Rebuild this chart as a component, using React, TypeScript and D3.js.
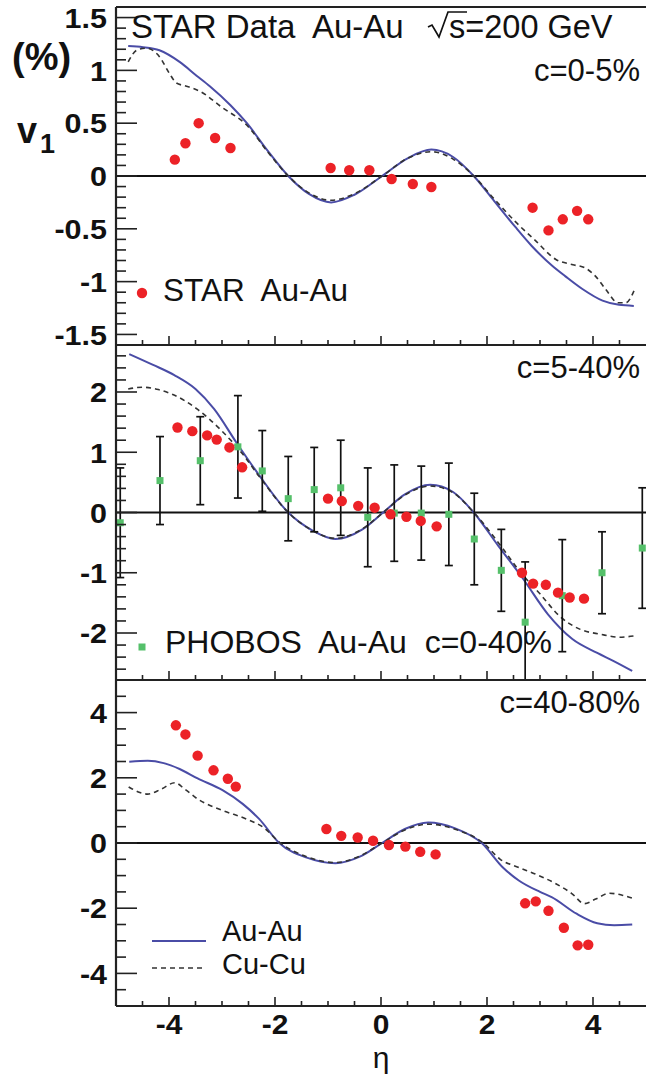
import React from 'react';
import * as d3 from 'd3';

// ---------- data ----------
const xTickLabels = [-4, -2, 0, 2, 4];
const yTicks1 = [-1.5, -1, -0.5, 0, 0.5, 1, 1.5];
const yTicks2 = [-2, -1, 0, 1, 2];
const yTicks3 = [-4, -2, 0, 2, 4];

// Panel 1 (c=0-5%)
const starEta1 = [-3.89, -3.69, -3.44, -3.13, -2.84, -0.95, -0.6, -0.22, 0.2, 0.6, 0.95, 2.86, 3.16, 3.43, 3.7, 3.91];
const starV1 = [0.155, 0.31, 0.5, 0.36, 0.265, 0.076, 0.054, 0.054, -0.028, -0.076, -0.104, -0.3, -0.515, -0.41, -0.33, -0.41];
const auEta1 = [-4.77, -4.49, -4.18, -3.8, -3.48, -3.23, -2.84, -2.53, -2.14, -1.75, -1.36, -0.94, -0.51, 0.02, 0.51, 0.95, 1.36, 1.75, 2.14, 2.53, 2.84, 3.23, 3.48, 3.8, 4.18, 4.49, 4.77];
const auV1 = [1.23, 1.22, 1.19, 1.08, 0.95, 0.85, 0.67, 0.5, 0.24, 0, -0.17, -0.25, -0.18, 0, 0.17, 0.25, 0.18, 0, -0.24, -0.48, -0.66, -0.85, -0.95, -1.07, -1.18, -1.22, -1.23];
const cuEta1 = [-4.77, -4.61, -4.43, -4.18, -3.99, -3.86, -3.67, -3.41, -3.0, -2.53, -2.14, -1.75, -1.36, -0.94, -0.51, 0.02, 0.51, 0.95, 1.36, 1.75, 2.14, 2.53, 2.91, 3.3, 3.62, 3.85, 4.05, 4.25, 4.47, 4.62, 4.78];
const cuV1 = [1.08, 1.19, 1.21, 1.13, 0.97, 0.88, 0.85, 0.8, 0.65, 0.48, 0.23, 0, -0.16, -0.23, -0.17, 0, 0.17, 0.23, 0.16, 0, -0.22, -0.43, -0.61, -0.79, -0.84, -0.87, -0.95, -1.08, -1.2, -1.2, -1.08];

// Panel 2 (c=5-40%)
const starEta2 = [-3.84, -3.56, -3.28, -3.1, -2.86, -2.62, -1.0, -0.74, -0.43, -0.12, 0.18, 0.48, 0.75, 1.05, 2.66, 2.87, 3.11, 3.34, 3.56, 3.83];
const starV2 = [1.41, 1.35, 1.28, 1.21, 1.08, 0.75, 0.23, 0.19, 0.11, 0.08, -0.03, -0.07, -0.14, -0.23, -1.0, -1.18, -1.2, -1.33, -1.41, -1.43];
const phobosEta = [-4.92, -4.17, -3.41, -2.7, -2.24, -1.75, -1.26, -0.76, -0.25, 0.25, 0.76, 1.28, 1.76, 2.27, 2.72, 3.42, 4.17, 4.93];
const phobosV = [-0.17, 0.53, 0.86, 1.09, 0.69, 0.23, 0.38, 0.41, -0.08, -0.01, -0.01, -0.03, -0.44, -0.96, -1.82, -1.38, -1.0, -0.59];
const phobosErr = [0.91, 0.73, 0.73, 0.85, 0.67, 0.7, 0.7, 0.79, 0.82, 0.8, 0.78, 0.85, 0.76, 0.68, 1.0, 0.93, 0.68, 1.0];
const auEta2 = [-4.75, -4.3, -3.9, -3.5, -3.15, -2.72, -2.3, -1.75, -1.29, -0.86, -0.35, 0.04, 0.45, 0.93, 1.36, 1.75, 2.21, 2.68, 3.15, 3.61, 4.08, 4.4, 4.74];
const auV2 = [2.63, 2.45, 2.28, 2.05, 1.72, 1.15, 0.62, 0, -0.3, -0.44, -0.28, 0, 0.3, 0.46, 0.34, 0, -0.55, -1.1, -1.69, -2.1, -2.33, -2.47, -2.63];
const cuEta2 = [-4.77, -4.5, -4.2, -3.93, -3.46, -3.0, -2.61, -2.3, -1.75, -1.29, -0.86, -0.35, 0.04, 0.45, 0.93, 1.36, 1.75, 2.3, 2.61, 3.0, 3.37, 3.76, 4.14, 4.5, 4.77];
const cuV2 = [2.05, 2.08, 2.04, 1.96, 1.71, 1.35, 0.97, 0.6, 0, -0.3, -0.43, -0.27, 0, 0.29, 0.44, 0.33, 0, -0.6, -0.97, -1.35, -1.72, -1.94, -2.02, -2.07, -2.05];

// Panel 3 (c=40-80%)
const starEta3 = [-3.87, -3.69, -3.46, -3.16, -2.89, -2.74, -1.03, -0.75, -0.44, -0.15, 0.15, 0.46, 0.74, 1.03, 2.72, 2.92, 3.16, 3.45, 3.71, 3.91];
const starV3 = [3.61, 3.33, 2.68, 2.23, 1.97, 1.73, 0.43, 0.22, 0.17, 0.07, -0.06, -0.11, -0.27, -0.35, -1.85, -1.79, -2.08, -2.6, -3.14, -3.12];
const auEta3 = [-4.75, -4.4, -4.1, -3.8, -3.46, -2.99, -2.61, -2.3, -1.92, -1.4, -0.86, -0.4, 0.02, 0.45, 0.89, 1.4, 1.9, 2.3, 2.6, 3.0, 3.22, 3.69, 4.08, 4.4, 4.74];
const auV3 = [2.49, 2.52, 2.45, 2.27, 1.98, 1.62, 1.2, 0.74, 0, -0.45, -0.62, -0.42, 0, 0.43, 0.63, 0.45, 0, -0.75, -1.15, -1.5, -1.66, -2.17, -2.46, -2.52, -2.5];
const cuEta3 = [-4.76, -4.55, -4.4, -4.15, -3.89, -3.7, -3.46, -2.99, -2.53, -2.22, -1.9, -1.4, -0.86, -0.4, 0.02, 0.45, 0.89, 1.4, 1.93, 2.25, 2.6, 2.91, 3.3, 3.6, 3.84, 4.05, 4.31, 4.55, 4.78];
const cuV3 = [1.72, 1.55, 1.5, 1.65, 1.85, 1.65, 1.35, 1.0, 0.73, 0.48, 0, -0.42, -0.6, -0.4, 0, 0.4, 0.58, 0.42, 0, -0.5, -0.75, -0.95, -1.25, -1.55, -1.86, -1.72, -1.54, -1.6, -1.71];

// ---------- style ----------
const FONT = "'Liberation Sans', Arial, Helvetica, sans-serif";
const BLUE = '#4a4ca6';
const RED = '#ec2227';
const GREEN = '#55c06a';
const AXIS = '#222';
const DASH = '5,4';
const L = 116;
const R = 646;

const zip = (a: number[], b: number[]) => a.map((v, i) => [v, b[i]] as [number, number]);

export default function App() {
  const x = d3.scaleLinear().domain([-5, 5]).range([L, R]);

  const panels = [
    { id: 'p1', top: 7, bottom: 345, domain: [-1.6, 1.6], ticks: yTicks1, minor: 0.1, au: zip(auEta1, auV1), cu: zip(cuEta1, cuV1), star: zip(starEta1, starV1), label: 'c=0-5%', labelY: 81 },
    { id: 'p2', top: 345, bottom: 680, domain: [-2.78, 2.78], ticks: yTicks2, minor: 0.2, au: zip(auEta2, auV2), cu: zip(cuEta2, cuV2), star: zip(starEta2, starV2), label: 'c=5-40%', labelY: 378 },
    { id: 'p3', top: 680, bottom: 1006, domain: [-5, 5], ticks: yTicks3, minor: 0.5, au: zip(auEta3, auV3), cu: zip(cuEta3, cuV3), star: zip(starEta3, starV3), label: 'c=40-80%', labelY: 713 },
  ];

  const xMinor = d3.range(-9, 10).map((k) => k * 0.5).filter((v) => Math.abs(v % 2) > 1e-9);

  return (
    <svg width={646} height={1075} style={{ position: 'absolute', left: 0, top: 0, background: '#fff' }} fontFamily={FONT}>
      <rect x={0} y={0} width={646} height={1075} fill="#fff" />
      <defs>
        {panels.map((p) => (
          <clipPath id={`clip-${p.id}`} key={p.id}>
            <rect x={L} y={p.top} width={R - L + 10} height={p.bottom - p.top} />
          </clipPath>
        ))}
      </defs>
      {panels.map((p, pi) => {
        const y = d3.scaleLinear().domain(p.domain).range([p.bottom, p.top]);
        const line = d3.line<[number, number]>().x((d) => x(d[0])).y((d) => y(d[1])).curve(d3.curveMonotoneX);
        const nMin = Math.ceil(p.domain[0] / p.minor - 1e-6);
        const nMax = Math.floor(p.domain[1] / p.minor + 1e-6);
        const yMinor = d3.range(nMin, nMax + 1).map((k) => +(k * p.minor).toFixed(4));
        const majorStep = p.ticks[1] - p.ticks[0];
        return (
          <g key={p.id}>
            <g clipPath={`url(#clip-${p.id})`}>
              <line x1={L} x2={R} y1={y(0)} y2={y(0)} stroke="#111" strokeWidth={1.8} />
              <path d={line(p.au) || ''} fill="none" stroke={BLUE} strokeWidth={2} />
              <path d={line(p.cu) || ''} fill="none" stroke="#333" strokeWidth={1.6} strokeDasharray={DASH} />
              {pi === 1 &&
                phobosEta.map((e, i) => (
                  <g key={`pe${i}`} stroke="#111" strokeWidth={1.7}>
                    <line x1={x(e)} x2={x(e)} y1={y(phobosV[i] - phobosErr[i])} y2={y(phobosV[i] + phobosErr[i])} />
                    <line x1={x(e) - 4} x2={x(e) + 4} y1={y(phobosV[i] - phobosErr[i])} y2={y(phobosV[i] - phobosErr[i])} />
                    <line x1={x(e) - 4} x2={x(e) + 4} y1={y(phobosV[i] + phobosErr[i])} y2={y(phobosV[i] + phobosErr[i])} />
                  </g>
                ))}
              {pi === 1 &&
                phobosEta.map((e, i) => (
                  <rect key={`ps${i}`} x={x(e) - 3.5} y={y(phobosV[i]) - 3.5} width={7} height={7} fill={GREEN} />
                ))}
              {p.star.map((d, i) => (
                <circle key={`s${i}`} cx={x(d[0])} cy={y(d[1])} r={5.2} fill={RED} />
              ))}
            </g>
            {/* y ticks */}
            {yMinor.map((v, i) => {
              const isMajor = Math.abs(v / majorStep - Math.round(v / majorStep)) < 1e-6;
              return <line key={`ym${i}`} x1={L} x2={L + (isMajor ? 21 : 10)} y1={y(v)} y2={y(v)} stroke={AXIS} strokeWidth={1.6} />;
            })}
            {p.ticks.map((t) => (
              <text key={`yl${t}`} transform={`translate(107,${y(t)}) scale(1.07,1)`} dy="0.36em" textAnchor="end" fontSize={28.5} fontWeight="bold" fill="#111">
                {t}
              </text>
            ))}
            {/* x ticks on bottom */}
            {xMinor.map((v) => (
              <line key={`xm${v}`} x1={x(v)} x2={x(v)} y1={p.bottom} y2={p.bottom - 5} stroke={AXIS} strokeWidth={1.6} />
            ))}
            {xTickLabels.map((v) => (
              <line key={`xM${v}`} x1={x(v)} x2={x(v)} y1={p.bottom} y2={p.bottom - 9} stroke={AXIS} strokeWidth={1.6} />
            ))}
            {/* frame */}
            <line x1={L} x2={R} y1={p.bottom} y2={p.bottom} stroke={AXIS} strokeWidth={2} />
            <line x1={L} x2={R} y1={p.top} y2={p.top} stroke={AXIS} strokeWidth={2} />
            <line x1={L} x2={L} y1={p.top} y2={p.bottom} stroke={AXIS} strokeWidth={2.2} />
            <text x={640} y={p.labelY} textAnchor="end" fontSize={31} fill="#111">
              {p.label}
            </text>
          </g>
        );
      })}

      {/* x axis labels */}
      {xTickLabels.map((v) => (
        <text key={`xl${v}`} transform={`translate(${x(v)},1034) scale(1.07,1)`} textAnchor="middle" fontSize={28} fontWeight="bold" fill="#111">
          {v}
        </text>
      ))}
      <text x={381} y={1068} textAnchor="middle" fontSize={30} fill="#111">η</text>

      {/* y title */}
      <text x={12} y={70} fontSize={38} fontWeight="bold" fill="#111">(%)</text>
      <text x={17} y={143} fontSize={36} fontWeight="bold" fill="#111">v</text>
      <text x={40} y={153} fontSize={27} fontWeight="bold" fill="#111">1</text>

      {/* header */}
      <text x={131} y={38} fontSize={33} fill="#111" style={{ whiteSpace: 'pre' }}>STAR Data  Au-Au</text>
      <path d="M428,27 L432,25 L439,37 L448,12 L467,12" fill="none" stroke="#111" strokeWidth={1.7} />
      <text x={449} y={38} fontSize={32.5} fill="#111">s=200 GeV</text>

      {/* legends */}
      <circle cx={142} cy={293} r={5.2} fill={RED} />
      <text x={163} y={301} fontSize={31.5} fill="#111" style={{ whiteSpace: 'pre' }}>STAR  Au-Au</text>
      <rect x={138.5} y={643.5} width={7} height={7} fill={GREEN} />
      <text x={165} y={653} fontSize={32} fill="#111" style={{ whiteSpace: 'pre' }}>PHOBOS  Au-Au  c=0-40%</text>
      <line x1={152} x2={206} y1={941} y2={941} stroke={BLUE} strokeWidth={2} />
      <text x={222} y={941} fontSize={29} fill="#111">Au-Au</text>
      <line x1={152} x2={206} y1={968} y2={968} stroke="#333" strokeWidth={1.6} strokeDasharray={DASH} />
      <text x={222} y={974} fontSize={29} fill="#111">Cu-Cu</text>
    </svg>
  );
}
